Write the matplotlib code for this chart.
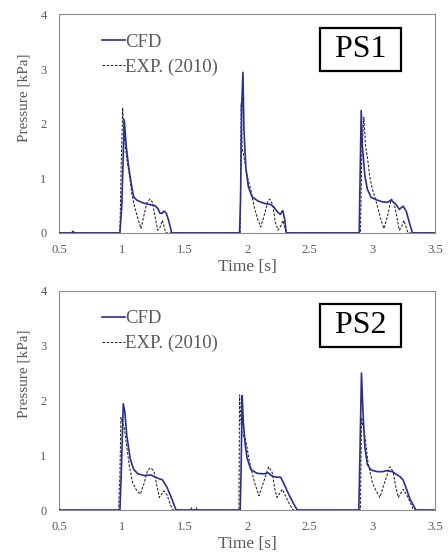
import matplotlib
matplotlib.use('Agg')
import matplotlib.pyplot as plt

plt.rcParams['font.family'] = ['Liberation Serif', 'DejaVu Serif']

# PS1 - values (time [s], pressure [kPa])
ps1_cfd_t = [0.5, 0.6, 0.61, 0.62, 0.985, 1.0, 1.02, 1.035, 1.055, 1.08, 1.095, 1.12, 1.17, 1.22, 1.265, 1.29, 1.305, 1.322, 1.337, 1.355, 1.375, 1.399,
             1.94, 1.948, 1.957, 1.967, 1.975, 1.99, 2.01, 2.04, 2.09, 2.14, 2.19, 2.215, 2.245, 2.265, 2.285, 2.30, 2.313,
             2.895, 2.902, 2.911, 2.92, 2.94, 2.96, 2.99, 3.04, 3.08, 3.12, 3.15, 3.19, 3.215, 3.245, 3.27, 3.3, 3.32, 3.5]
ps1_cfd_p = [0.0, 0.0, 0.03, 0.0, 0.0, 0.5, 2.07, 1.6, 1.2, 0.84, 0.66, 0.6, 0.55, 0.52, 0.5, 0.44, 0.36, 0.36, 0.4, 0.36, 0.22, 0.0,
             0.0, 0.6, 2.3, 2.94, 1.9, 1.2, 0.85, 0.66, 0.58, 0.54, 0.52, 0.47, 0.38, 0.34, 0.41, 0.25, 0.0,
             0.0, 1.0, 2.24, 1.6, 1.05, 0.8, 0.65, 0.6, 0.57, 0.56, 0.6, 0.52, 0.43, 0.49, 0.4, 0.15, 0.0, 0.0]

ps1_exp_t = [0.5, 0.985, 0.995, 1.007, 1.02, 1.04, 1.06, 1.08, 1.1, 1.125, 1.153, 1.175, 1.2, 1.225, 1.245, 1.265, 1.287, 1.305, 1.324, 1.34, 1.352,
             1.945, 1.95, 1.953, 1.96, 1.98, 2.0, 2.03, 2.06, 2.085, 2.11, 2.14, 2.165, 2.18, 2.205, 2.225, 2.247, 2.268, 2.287, 2.30, 2.313,
             2.905, 2.915, 2.932, 2.945, 2.96, 2.98, 3.0, 3.02, 3.05, 3.07, 3.092, 3.12, 3.15, 3.17, 3.195, 3.215, 3.235, 3.252, 3.27, 3.284, 3.5]
ps1_exp_p = [0.0, 0.0, 1.2, 2.29, 1.75, 1.35, 1.08, 0.72, 0.5, 0.29, 0.08, 0.3, 0.55, 0.62, 0.56, 0.3, 0.05, 0.1, 0.23, 0.1, 0.0,
             0.0, 1.5, 2.37, 1.57, 1.33, 1.05, 0.78, 0.45, 0.25, 0.11, 0.35, 0.57, 0.62, 0.52, 0.2, 0.05, 0.12, 0.23, 0.1, 0.0,
             0.0, 1.4, 2.12, 1.6, 1.39, 1.02, 0.8, 0.66, 0.4, 0.23, 0.08, 0.3, 0.62, 0.58, 0.3, 0.05, 0.12, 0.23, 0.1, 0.0, 0.0]

# PS2
ps2_cfd_t = [0.5, 0.985, 0.995, 1.012, 1.025, 1.04, 1.068, 1.095, 1.13, 1.18, 1.233, 1.27, 1.30, 1.325, 1.36, 1.40, 1.433,
             1.945, 1.952, 1.961, 1.97, 1.985, 2.0, 2.03, 2.08, 2.135, 2.167, 2.20, 2.235, 2.268, 2.29, 2.33, 2.37, 2.401,
             2.892, 2.90, 2.913, 2.925, 2.94, 2.96, 2.99, 3.04, 3.08, 3.113, 3.16, 3.22, 3.245, 3.27, 3.30, 3.348, 3.5]
ps2_cfd_p = [0.0, 0.0, 0.6, 1.94, 1.78, 1.36, 0.93, 0.74, 0.66, 0.63, 0.64, 0.6, 0.57, 0.55, 0.42, 0.2, 0.0,
             0.0, 0.7, 2.09, 1.6, 1.2, 0.95, 0.74, 0.67, 0.66, 0.68, 0.62, 0.6, 0.6, 0.5, 0.3, 0.12, 0.0,
             0.0, 0.9, 2.5, 1.8, 1.15, 0.83, 0.73, 0.7, 0.7, 0.72, 0.7, 0.61, 0.55, 0.4, 0.2, 0.0, 0.0]

ps2_exp_t = [0.5, 0.975, 0.98, 0.985, 0.993, 1.005, 1.02, 1.035, 1.06, 1.087, 1.12, 1.148, 1.18, 1.205, 1.228, 1.255, 1.28, 1.30, 1.335, 1.36, 1.385, 1.407,
             1.55, 1.555, 1.56, 1.59, 1.595, 1.60,
             1.935, 1.94, 1.95, 1.96, 1.987, 2.02, 2.06, 2.095, 2.13, 2.172, 2.2, 2.22, 2.239, 2.281, 2.31, 2.34, 2.367,
             2.905, 2.913, 2.925, 2.94, 2.965, 3.0, 3.03, 3.06, 3.09, 3.14, 3.165, 3.185, 3.207, 3.247, 3.28, 3.31, 3.327, 3.5]
ps2_exp_p = [0.0, 0.0, 0.4, 0.6, 1.69, 1.6, 1.5, 1.24, 0.81, 0.5, 0.35, 0.29, 0.5, 0.72, 0.77, 0.72, 0.45, 0.23, 0.35, 0.28, 0.12, 0.0,
             0.0, 0.04, 0.0, 0.0, 0.04, 0.0,
             0.0, 2.1, 1.66, 1.4, 1.3, 0.87, 0.5, 0.26, 0.5, 0.79, 0.69, 0.4, 0.23, 0.38, 0.24, 0.1, 0.0,
             0.0, 1.69, 1.55, 1.36, 0.87, 0.5, 0.35, 0.23, 0.45, 0.79, 0.7, 0.45, 0.23, 0.38, 0.25, 0.1, 0.0, 0.0]

panels = [('PS1', ps1_cfd_t, ps1_cfd_p, ps1_exp_t, ps1_exp_p),
          ('PS2', ps2_cfd_t, ps2_cfd_p, ps2_exp_t, ps2_exp_p)]

xticks = [0.5, 1, 1.5, 2, 2.5, 3, 3.5]
xtick_labels = ['0.5', '1', '1.5', '2', '2.5', '3', '3.5']
yticks = [0, 1, 2, 3, 4]

fig = plt.figure(figsize=(4.48, 5.52), dpi=100)
gray = '#595959'
axes_pos = [[0.132, 0.578, 0.839, 0.396], [0.132, 0.076, 0.839, 0.397]]

for pos, (name, ct, cp, et, ep) in zip(axes_pos, panels):
    ax = fig.add_axes(pos)
    ax.plot(et, ep, color='#222222', lw=0.75, ls=(0, (2.5, 1.5)), label='EXP. (2010)', zorder=2)
    ax.plot(ct, cp, color='#2B2E91', lw=1.2, label='CFD', zorder=3)
    ax.set_xlim(0.5, 3.5)
    ax.set_ylim(0, 4)
    ax.set_xticks(xticks)
    ax.set_xticklabels(xtick_labels)
    ax.set_yticks(yticks)
    ax.tick_params(length=0, labelsize=9, labelcolor=gray)
    ax.tick_params(axis='x', pad=8)
    ax.tick_params(axis='y', pad=9)
    for s in ax.spines.values():
        s.set_color('#8c8c8c')
        s.set_linewidth(0.8)
    ax.set_xlabel('Time [s]', fontsize=12.5, color=gray, labelpad=2)
    ax.set_ylabel('Pressure [kPa]', fontsize=11, color=gray)
    ax.yaxis.set_label_coords(-0.076, 0.62)
    h, l = ax.get_legend_handles_labels()
    ax.legend(h[::-1], l[::-1], loc='upper left', bbox_to_anchor=(0.114, 0.912), frameon=False,
              fontsize=13.5, handlelength=1.25, handletextpad=0.0, labelspacing=0.4,
              borderpad=0, borderaxespad=0, labelcolor=gray)
    ax.text(0.802, 0.84, ' ' + name + ' ', transform=ax.transAxes, ha='center', va='center', fontsize=23,
            bbox=dict(boxstyle='square,pad=0.22', fc='white', ec='black', lw=1.6))

fig.savefig('out.png', dpi=100)
